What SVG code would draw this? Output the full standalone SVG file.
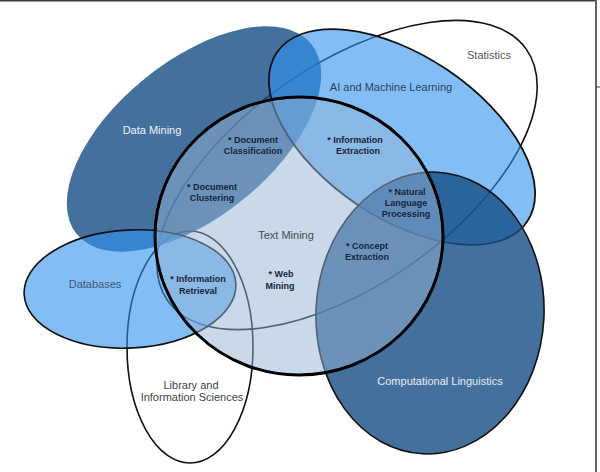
<svg xmlns="http://www.w3.org/2000/svg" width="600" height="472" viewBox="0 0 600 472">
<style>
.ol{stroke:#111;stroke-width:1.6}
.dark{fill:#154c86;fill-opacity:0.8}
.light{fill:#2f93ee;fill-opacity:0.6}
.cat{font-family:"Liberation Sans",Arial,sans-serif;font-size:11px;text-anchor:middle}
.lbl{font-family:"Liberation Sans",Arial,sans-serif;font-size:9px;font-weight:bold;text-anchor:middle;fill:#16243a}
</style>
<rect width="600" height="472" fill="#ffffff"/>
<g id="frame" fill="none" stroke="#3a3a3a">
<line x1="0" y1="0.8" x2="595" y2="0.8" stroke-width="1.6"/>
<line x1="596" y1="0" x2="596" y2="472" stroke-width="1.6"/>
<line x1="596" y1="87" x2="600" y2="87" stroke-width="1"/>
</g>
<g id="statistics"><ellipse class="ol" cx="347" cy="175" rx="219" ry="110" transform="rotate(-35 347 175)" fill="none"/></g>
<g id="library"><ellipse class="ol" cx="190" cy="347" rx="63" ry="116" fill="none"/></g>
<g id="data-mining"><ellipse class="dark" cx="194" cy="139" rx="151" ry="78" transform="rotate(-39 194 139)"/></g>
<g id="databases"><ellipse class="light ol" cx="130" cy="289" rx="106" ry="59" transform="rotate(-3 130 289)"/></g>
<g id="ai-ml"><ellipse class="light ol" cx="402" cy="137" rx="151" ry="81" transform="rotate(34 402 137)" style="stroke-width:1.8"/></g>
<g id="comp-ling"><ellipse class="dark ol" cx="430" cy="313" rx="114" ry="141" transform="rotate(3 430 313)"/></g>
<g id="text-mining"><ellipse cx="299" cy="236" rx="144" ry="139" fill="#93b3d5" fill-opacity="0.5" stroke="#000" stroke-width="3"/></g>
<g id="labels">
<text class="cat" x="152" y="134" fill="#eef2f8">Data Mining</text>
<text class="cat" x="391" y="91" fill="#2d4259">AI and Machine Learning</text>
<text class="cat" x="489" y="59" fill="#555">Statistics</text>
<text class="cat" x="286" y="239" fill="#4a4a4a">Text Mining</text>
<text class="cat" x="95" y="288" fill="#3a5878">Databases</text>
<text class="cat" x="191" y="389" fill="#444">Library and</text>
<text class="cat" x="192" y="401" fill="#444">Information Sciences</text>
<text class="cat" x="440" y="385" fill="#e6edf6">Computational Linguistics</text>
<text class="lbl" x="253" y="142.5">* Document</text>
<text class="lbl" x="253" y="153.5">Classification</text>
<text class="lbl" x="355" y="142.5">* Information</text>
<text class="lbl" x="358" y="153.5">Extraction</text>
<text class="lbl" x="212" y="190">* Document</text>
<text class="lbl" x="212" y="200.5">Clustering</text>
<text class="lbl" x="407" y="195">* Natural</text>
<text class="lbl" x="406" y="206">Language</text>
<text class="lbl" x="406" y="217">Processing</text>
<text class="lbl" x="367" y="248.5">* Concept</text>
<text class="lbl" x="367" y="260">Extraction</text>
<text class="lbl" x="281" y="276.5">* Web</text>
<text class="lbl" x="280" y="288.5">Mining</text>
<text class="lbl" x="198" y="281.5">* Information</text>
<text class="lbl" x="198" y="294">Retrieval</text>
</g>
</svg>
